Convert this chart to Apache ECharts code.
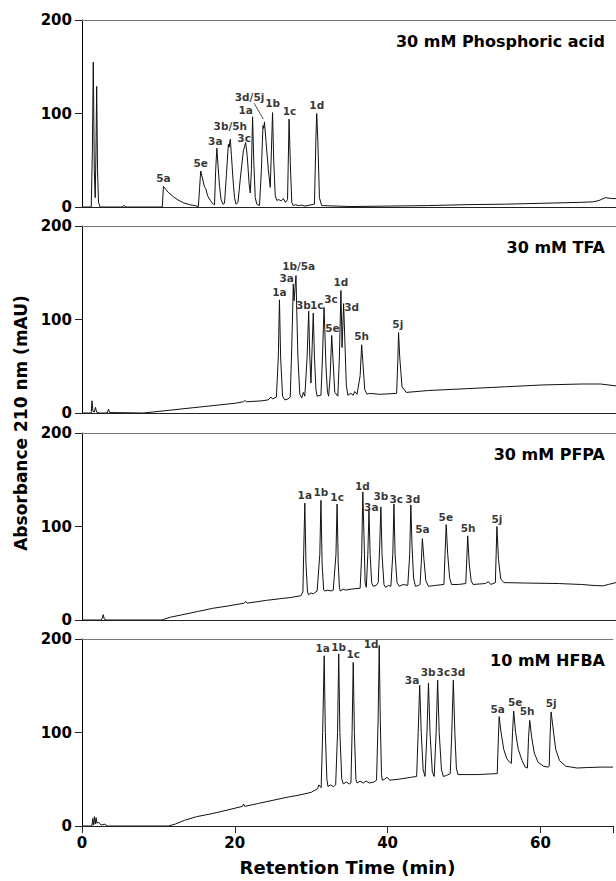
<!DOCTYPE html>
<html>
<head>
<meta charset="utf-8">
<title>Chromatograms</title>
<script src="https://cdn.jsdelivr.net/npm/echarts@6/dist/echarts.min.js"></script>
<style>
  html, body { margin: 0; padding: 0; background: #fff; }
  #chart { width: 616px; height: 881px; }
</style>
</head>
<body>
<div id="chart"></div>
<script>
'use strict';

// tick labels
const X_TICKS = [0, 20, 40, 60];
const Y_TICKS = [0, 100, 200];
const X_MAX = 69.5;

const panelTitles = ['30 mM Phosphoric acid', '30 mM TFA', '30 mM PFPA', '10 mM HFBA'];

// traces, [time (min), absorbance (mAU)]
const tracePhosphoric = [
  [0, 0], [1.2, 0], [1.35, 60], [1.47, 155], [1.6, 40], [1.72, 10], [1.82, 60], [1.91, 129], [2.02, 40], [2.15, 5], [2.35, 0],
  [5.2, 0], [5.5, 1.5], [5.8, 0],
  [10.45, 0], [10.6, 22], [10.9, 19], [11.3, 15], [11.9, 11], [12.5, 7.5], [13.2, 4.5], [14, 2.5], [14.7, 1.5], [15.15, 0.5],
  [15.3, 20], [15.45, 38.5], [15.7, 30], [15.95, 21], [16.1, 20], [16.35, 12], [16.7, 7], [17.0, 3.5], [17.25, 2.5],
  [17.4, 40], [17.55, 63], [17.7, 45], [17.9, 22], [18.1, 8], [18.35, 3], [18.55, 4],
  [18.8, 35], [19.05, 67], [19.15, 64], [19.3, 72.5], [19.45, 55], [19.65, 30], [19.85, 10], [20.05, 3], [20.3, 5],
  [20.6, 30], [21.0, 60], [21.3, 69], [21.5, 55], [21.75, 25], [21.9, 15], [22.05, 40], [22.2, 96.5], [22.35, 50], [22.55, 10], [22.75, 3], [23.1, 1.5],
  [23.35, 40], [23.55, 87], [23.65, 84], [23.75, 91], [23.95, 70], [24.25, 40], [24.5, 21], [24.65, 60], [24.8, 101], [24.95, 50], [25.15, 12],
  [25.35, 7], [25.6, 8], [25.9, 6.5], [26.2, 9], [26.5, 5],
  [26.75, 8], [26.95, 94], [27.1, 50], [27.3, 5], [27.5, 1.5], [27.8, 2.5], [28.2, 1.5], [28.6, 2], [29, 1],
  [30.25, 3], [30.45, 75], [30.55, 100], [30.7, 70], [30.9, 10], [31.2, 1.5],
  [35, 0.5], [40, 1], [45, 1.5], [50, 2.5], [55, 3], [60, 4], [65, 5], [66.5, 5.5], [67.3, 7], [68.1, 10], [69, 9], [69.5, 9]
];

const traceTFA = [
  [0, 0], [1.2, 0], [1.3, 13], [1.42, 2], [1.6, 1], [1.75, 6], [1.9, 1], [2.2, 0], [3.3, 0], [3.45, 4], [3.6, 0.5],
  [8, 0], [12, 3.5], [16, 7], [20, 10.5], [21, 12], [21.2, 13.5], [21.4, 12], [23.4, 13], [24.2, 14], [24.6, 17], [24.8, 15], [25.3, 17],
  [25.55, 60], [25.7, 121], [25.85, 60], [26.1, 18], [26.4, 14], [26.8, 15], [27.1, 17],
  [27.3, 70], [27.5, 138], [27.6, 120], [27.85, 147], [27.95, 110], [28.1, 60], [28.35, 20], [28.6, 16], [28.8, 22], [29.0, 18],
  [29.3, 60], [29.5, 109], [29.65, 60], [29.8, 32], [29.95, 70], [30.1, 107], [30.25, 60], [30.45, 25], [30.6, 18], [31.1, 19],
  [31.3, 60], [31.5, 113], [31.6, 90], [31.75, 50], [31.95, 22], [32.1, 18],
  [32.3, 40], [32.5, 83], [32.65, 60], [32.9, 22], [33.3, 18],
  [33.5, 60], [33.7, 131], [33.85, 70], [34.05, 117], [34.2, 80], [34.4, 30], [34.6, 19], [35.0, 21], [35.3, 19], [35.5, 23], [35.8, 20],
  [36.2, 40], [36.4, 73], [36.55, 55], [36.8, 25], [37.1, 20], [37.4, 21], [38.8, 20], [40.95, 21],
  [41.1, 55], [41.2, 86], [41.35, 60], [41.65, 28], [42.2, 22],
  [45, 24], [50, 26], [55, 28], [60, 30], [65, 31], [67.5, 31], [69.5, 29]
];

const tracePFPA = [
  [0, 0], [2.5, 0], [2.65, 2], [2.76, 5.7], [2.9, 1], [3.2, 0],
  [10.4, 0], [11.5, 3], [13, 5.5], [15, 9], [17, 12.5], [19, 15], [21.1, 18], [21.3, 20], [21.5, 18], [24, 21], [26, 23], [27.1, 24], [28.5, 26], [28.75, 30],
  [28.85, 70], [29.0, 125], [29.15, 60], [29.35, 30], [29.5, 27], [29.8, 29], [30.1, 28], [30.6, 31],
  [30.95, 70], [31.1, 128], [31.25, 60], [31.45, 32], [31.6, 31], [32.0, 32], [32.4, 31], [32.7, 32],
  [33.05, 70], [33.2, 124], [33.35, 60], [33.5, 35], [33.6, 31], [34.0, 33], [34.3, 32], [35, 33], [36.2, 34],
  [36.4, 70], [36.55, 137], [36.7, 90], [36.85, 40], [37.0, 35], [37.2, 70], [37.35, 117], [37.5, 70], [37.7, 40], [37.9, 36], [38.3, 37], [38.55, 40],
  [38.75, 80], [38.9, 121], [39.05, 70], [39.3, 38], [39.5, 35], [39.9, 37], [40.2, 36],
  [40.45, 70], [40.6, 124], [40.75, 70], [41.0, 40], [41.3, 36], [41.8, 38], [42.4, 37],
  [42.65, 70], [42.8, 123], [42.95, 80], [43.15, 45], [43.4, 36], [43.8, 37], [44.0, 38],
  [44.15, 60], [44.3, 87], [44.5, 65], [44.75, 42], [45.1, 36], [46.0, 37], [47.1, 38],
  [47.25, 70], [47.4, 102], [47.6, 70], [47.85, 45], [48.1, 38], [49.0, 38], [49.95, 39],
  [50.08, 65], [50.2, 90], [50.4, 60], [50.65, 42], [50.9, 38], [52.5, 39], [52.9, 41], [53.2, 38], [53.8, 40],
  [53.9, 70], [54.0, 100], [54.2, 65], [54.5, 44], [54.9, 40],
  [58, 39.5], [62, 39], [65, 38], [66.5, 37], [67.8, 36.5], [68.5, 38], [69.5, 40]
];

const traceHFBA = [
  [0, 0], [1.3, 0], [1.4, 8], [1.5, 1], [1.62, 10], [1.72, 2], [1.85, 9], [1.95, 3], [2.2, 4], [2.5, 1], [3.0, 2], [3.3, 0],
  [11.3, 0], [12.2, 2], [13.4, 6], [15, 10], [16.9, 13], [19, 17], [21.0, 21], [21.15, 23.5], [21.3, 21],
  [23, 24], [25, 27.5], [27, 31], [28.4, 33], [30, 36], [30.85, 40], [31.0, 44], [31.3, 41],
  [31.5, 100], [31.7, 182], [31.85, 100], [32.05, 50], [32.2, 42], [32.5, 44], [32.9, 42], [33.2, 44],
  [33.45, 100], [33.6, 184], [33.75, 100], [34.0, 50], [34.2, 45], [34.6, 47], [35.0, 45], [35.2, 46],
  [35.35, 100], [35.5, 175], [35.65, 100], [35.85, 50], [36.0, 46], [36.4, 48], [36.8, 46], [37.2, 48], [37.6, 46], [38.2, 47], [38.55, 49],
  [38.75, 110], [38.9, 193], [39.05, 110], [39.2, 55], [39.3, 49], [39.6, 50], [39.9, 52], [40.3, 49], [41.4, 50], [43.0, 52], [43.8, 53],
  [44.0, 100], [44.2, 150.5], [44.4, 100], [44.65, 60], [44.9, 53],
  [45.15, 100], [45.35, 153], [45.55, 100], [45.85, 58], [46.1, 53],
  [46.35, 100], [46.55, 156], [46.75, 100], [47.05, 60], [47.3, 53], [47.7, 54], [48.2, 56],
  [48.4, 100], [48.6, 156], [48.8, 100], [49.0, 62], [49.2, 55], [50.5, 55], [51.8, 55], [53, 55.5], [54.35, 56],
  [54.5, 95], [54.6, 117], [54.85, 100], [55.2, 82], [55.6, 72], [56.0, 68], [56.2, 67],
  [56.35, 100], [56.5, 123], [56.75, 100], [57.1, 82], [57.6, 70], [58.0, 63], [58.3, 62],
  [58.45, 95], [58.6, 113], [58.85, 95], [59.2, 78], [59.7, 68], [60.4, 64], [61.0, 63], [61.15, 64],
  [61.28, 100], [61.4, 122], [61.65, 105], [62.0, 82], [62.5, 70], [63.3, 64], [64.8, 62], [66, 62.5], [68, 63], [69.5, 63]
];

// peak labels, [time, absorbance at label bottom, name]
const peaksPhosphoric = [
  [10.6, 25, '5a'], [15.45, 41, '5e'], [17.35, 65, '3a'], [19.3, 80.5, '3b/5h'], [21.1, 68, '3c'],
  [21.3, 98, '1a'], [21.8, 111.5, '3d/5j'], [24.8, 105.5, '1b'], [27.0, 96.5, '1c'], [30.55, 103, '1d']
];
const leaderPhosphoric = [[22.4, 111], [23.6, 94]];

const peaksTFA = [
  [25.7, 124, '1a'], [26.65, 138.5, '3a'], [28.2, 151.5, '1b/5a'], [28.8, 110, '3b'], [30.55, 110, '1c'],
  [32.4, 116, '3c'], [32.6, 85, '5e'], [33.7, 134, '1d'], [35.1, 107, '3d'], [36.4, 76, '5h'], [41.1, 89, '5j']
];

const peaksPFPA = [
  [29.0, 128, '1a'], [31.1, 131, '1b'], [33.2, 125.5, '1c'], [36.5, 137, '1d'], [37.65, 115, '3a'],
  [38.9, 126.5, '3b'], [40.9, 123, '3c'], [43.05, 123, '3d'], [44.3, 91, '5a'], [47.35, 104, '5e'],
  [50.25, 92, '5h'], [54.0, 102, '5j']
];

const peaksHFBA = [
  [31.5, 184, '1a'], [33.6, 186, '1b'], [35.5, 178, '1c'], [37.85, 189, '1d'],
  [43.2, 150.5, '3a'], [45.3, 159, '3b'], [47.3, 159, '3c'], [49.2, 159, '3d'],
  [54.4, 119, '5a'], [56.7, 126.5, '5e'], [58.25, 117, '5h'], [61.4, 125.5, '5j']
];

const traces = [tracePhosphoric, traceTFA, tracePFPA, traceHFBA];
const peakLabels = [peaksPhosphoric, peaksTFA, peaksPFPA, peaksHFBA];

(function () {
  const FONT = '"DejaVu Sans", sans-serif';
  const PANEL_TOPS = [20, 226, 433, 639];
  const PANEL_H = 187;
  const LEFT = 82;
  const last = traces.length - 1;

  const grid = PANEL_TOPS.map((top) => ({ left: LEFT, right: 0, top: top, height: PANEL_H }));

  const xAxis = [];
  traces.forEach((_, i) => {
    const isLast = i === last;
    xAxis.push({
      type: 'value',
      gridIndex: i,
      min: X_TICKS[0],
      max: X_MAX,
      interval: X_TICKS[1] - X_TICKS[0],
      axisLine: { show: true, lineStyle: { color: '#222', width: 1 } },
      axisTick: { show: isLast, length: 7, lineStyle: { color: '#222' } },
      axisLabel: {
        show: isLast, margin: 9, color: '#000', fontFamily: FONT, fontWeight: 'bold', fontSize: 15,
        formatter: (v) => (X_TICKS.indexOf(v) >= 0 ? String(v) : '')
      },
      splitLine: { show: false },
      name: isLast ? 'Retention Time (min)' : '',
      nameLocation: 'middle',
      nameGap: 32,
      nameTextStyle: { color: '#000', fontFamily: FONT, fontWeight: 'bold', fontSize: 18 }
    });
  });
  // gray frame line at the top of each panel
  traces.forEach((_, i) => {
    xAxis.push({
      type: 'value', gridIndex: i, position: 'top', min: X_TICKS[0], max: X_MAX,
      axisLine: { show: true, lineStyle: { color: '#777', width: 1 } },
      axisTick: { show: false }, axisLabel: { show: false }, splitLine: { show: false }
    });
  });

  const yAxis = traces.map((_, i) => ({
    type: 'value',
    gridIndex: i,
    min: Y_TICKS[0],
    max: Y_TICKS[Y_TICKS.length - 1],
    interval: Y_TICKS[1] - Y_TICKS[0],
    axisLine: { show: true, lineStyle: { color: '#000', width: 1 } },
    axisTick: { show: true, length: 7, lineStyle: { color: '#222' } },
    axisLabel: { margin: 10, color: '#000', fontFamily: FONT, fontWeight: 'bold', fontSize: 15 },
    splitLine: { show: false }
  }));

  const series = [];
  traces.forEach((data, i) => {
    series.push({
      type: 'line', xAxisIndex: i, yAxisIndex: i, data: data,
      showSymbol: false, symbol: 'none', silent: true,
      lineStyle: { color: '#111', width: 1 }
    });
    series.push({
      type: 'scatter', xAxisIndex: i, yAxisIndex: i, data: peakLabels[i],
      symbolSize: 0, silent: true,
      label: {
        show: true, position: 'top', distance: 0,
        formatter: (p) => p.data[2],
        color: '#000', fontFamily: FONT, fontWeight: 'bold', fontSize: 10.5
      }
    });
  });
  series.push({
    type: 'line', xAxisIndex: 0, yAxisIndex: 0, data: leaderPhosphoric,
    showSymbol: false, symbol: 'none', silent: true,
    lineStyle: { color: '#222', width: 0.8 }
  });

  const title = panelTitles.map((text, i) => ({
    text: text,
    right: 11,
    top: PANEL_TOPS[i] + 13,
    padding: 0,
    textStyle: { color: '#000', fontFamily: FONT, fontWeight: 'bold', fontSize: 16 }
  }));

  const chart = echarts.init(document.getElementById('chart'), null, { renderer: 'svg' });
  chart.setOption({
    animation: false,
    backgroundColor: '#fff',
    title: title,
    grid: grid,
    xAxis: xAxis,
    yAxis: yAxis,
    series: series,
    graphic: [{
      type: 'text',
      x: 21,
      y: 423,
      rotation: Math.PI / 2,
      style: {
        text: 'Absorbance 210 nm (mAU)',
        fill: '#000',
        font: 'bold 17px ' + FONT,
        align: 'center',
        verticalAlign: 'middle'
      }
    }]
  });
})();
</script>
</body>
</html>
